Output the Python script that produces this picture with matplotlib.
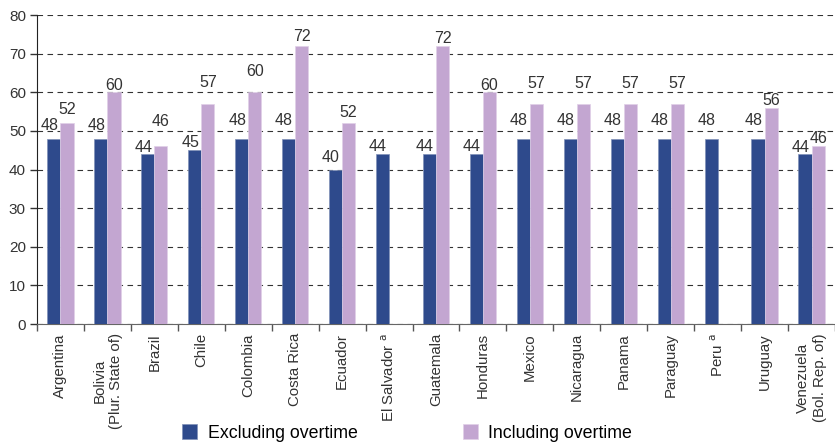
import matplotlib.pyplot as plt
import numpy as np
from matplotlib.transforms import offset_copy

plt.rcParams["font.family"] = ["Liberation Sans", "DejaVu Sans"]

countries = [
    "Argentina", "Bolivia\n(Plur. State of)", "Brazil", "Chile", "Colombia",
    "Costa Rica", "Ecuador", r"El Salvador $^{\rm a}$", "Guatemala", "Honduras",
    "Mexico", "Nicaragua", "Panama", "Paraguay", r"Peru $^{\rm a}$", "Uruguay",
    "Venezuela\n(Bol. Rep. of)",
]
excluding = [48, 48, 44, 45, 48, 48, 40, 44, 44, 44, 48, 48, 48, 48, 48, 48, 44]
including = [52, 60, 46, 57, 60, 72, 52, np.nan, 72, 60, 57, 57, 57, 57, np.nan, 56, 46]

# gap (px) between bar top and label baseline, as placed in the original
dark_gap = [9, 9, 2, 3.5, 14, 14, 8, 3, 3, 3, 13.5, 13.5, 13.5, 13.5, 13.5, 13.5, 2.5]
light_gap = [9, 2, 20, 17, 16, 4.5, 6.5, 0, 3, 2, 16, 16, 16, 16, 0, 2.5, 3]

dark = "#2E4A8C"
light = "#C3A6D1"

fig = plt.figure(figsize=(8.35, 4.44), dpi=100)
ax = fig.add_axes([0.0443, 0.27, 0.9557, 0.696])

x = np.arange(len(countries))
w = 0.28
ax.bar(x - w / 2, excluding, w, color=dark, edgecolor="#8090B8", linewidth=0.5,
       label="Excluding overtime", zorder=3)
ax.bar(x + w / 2, including, w, color=light, edgecolor="#E0D0E8", linewidth=0.5,
       label="Including overtime", zorder=3)

# value labels
for xi, v, g in zip(x, excluding, dark_gap):
    tr = offset_copy(ax.transData, fig=fig, x=-4.5, y=g, units="dots")
    ax.text(xi - w / 2, v, f"{v:g}", ha="center", va="baseline", fontsize=11.5,
            color="#333333", transform=tr, zorder=4)
for xi, v, g in zip(x, including, light_gap):
    if np.isnan(v):
        continue
    tr = offset_copy(ax.transData, fig=fig, x=0, y=g, units="dots")
    ax.text(xi + w / 2, v, f"{v:g}", ha="center", va="baseline", fontsize=11.5,
            color="#333333", transform=tr, zorder=4)

ax.set_xlim(-0.5, len(countries) - 0.5)
ax.set_ylim(0, 80)
ax.set_yticks(range(0, 81, 10))
ax.tick_params(axis="y", labelsize=11, length=5, width=1, colors="#333333", pad=3)

ax.set_xticks(x)
ax.set_xticklabels(countries, rotation=90, fontsize=10.8, color="#333333",
                   ha="center", va="top", multialignment="center")
ax.tick_params(axis="x", length=0, pad=6.5)
ax.set_xticks(np.arange(-0.5, len(countries)), minor=True)
ax.tick_params(axis="x", which="minor", length=5, width=1, color="#555555")

ax.yaxis.grid(True, linestyle=(0, (5, 4)), color="#333333", linewidth=0.8)
ax.set_axisbelow(True)
for s in ["top", "right"]:
    ax.spines[s].set_visible(False)
ax.spines["left"].set_color("#222222")
ax.spines["bottom"].set_color("#666666")

ax.legend(loc="center", bbox_to_anchor=(0.464, -0.353), ncol=2, frameon=False,
          fontsize=12.8, handlelength=0.85, handleheight=0.9, columnspacing=5.9,
          handletextpad=0.6)

fig.savefig("out.png", dpi=100)
